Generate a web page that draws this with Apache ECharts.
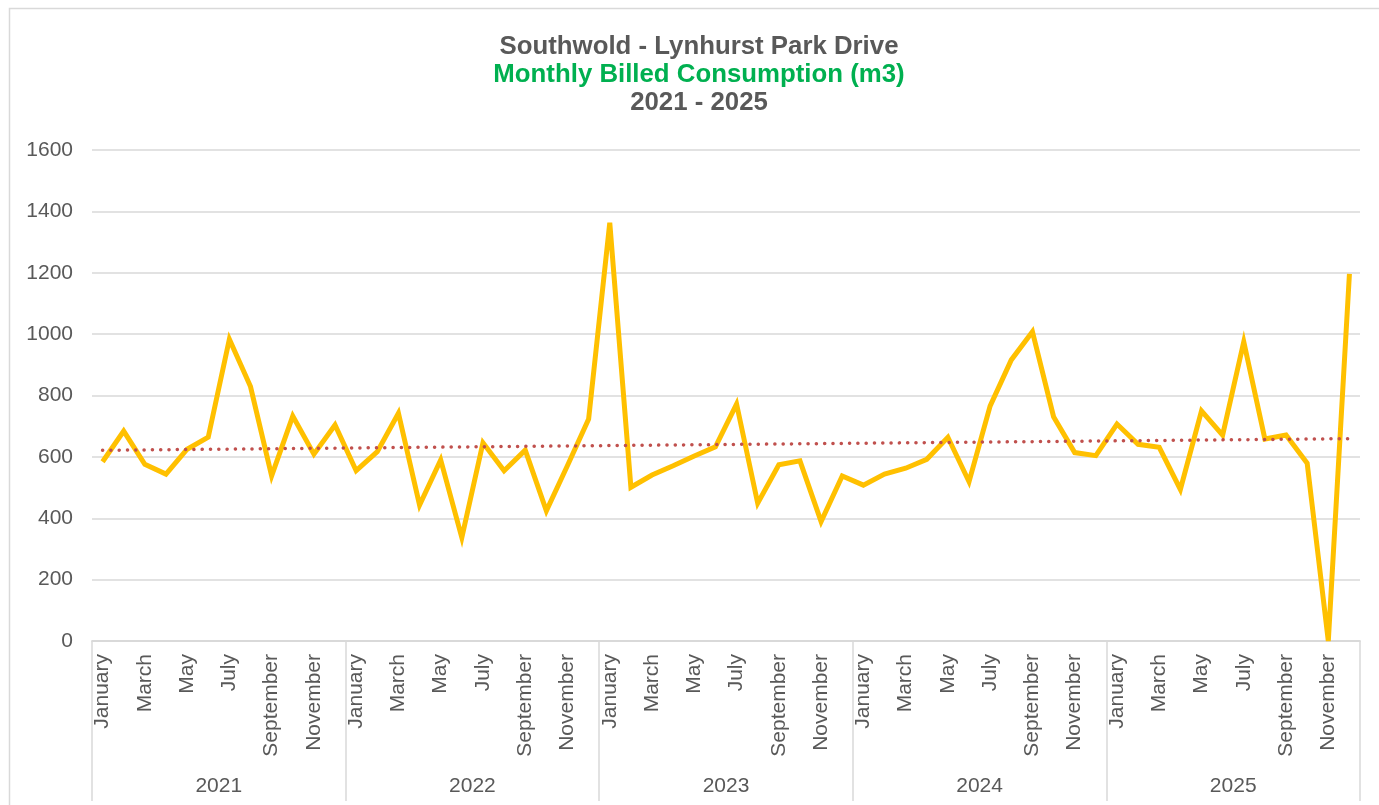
<!DOCTYPE html>
<html>
<head>
<meta charset="utf-8">
<script src="https://cdn.jsdelivr.net/npm/echarts@6/dist/echarts.min.js"></script>
<style>
  html, body { margin: 0; padding: 0; background: #fff; }
  #chart { width: 1379px; height: 805px; }
</style>
</head>
<body>
<div id="chart"></div>
<script>
// Monthly billed consumption (m3), Southwold - Lynhurst Park Drive
const years = ['2021', '2022', '2023', '2024', '2025'];
const monthNames = ['January', 'February', 'March', 'April', 'May', 'June',
  'July', 'August', 'September', 'October', 'November', 'December'];

const consumption2021 = [584, 684, 576, 544, 625, 664, 983, 829, 538, 733, 609, 704];
const consumption2022 = [555, 617, 742, 443, 590, 337, 646, 555, 622, 424, 572, 723];
const consumption2023 = [1363, 501, 541, 571, 603, 633, 772, 449, 574, 587, 389, 538];
const consumption2024 = [508, 544, 563, 592, 664, 519, 766, 916, 1008, 731, 614, 604];
const consumption2025 = [707, 641, 631, 494, 750, 671, 975, 658, 671, 579, 0, 1196];

const yTicks = [0, 200, 400, 600, 800, 1000, 1200, 1400, 1600];

const consumption = [].concat(consumption2021, consumption2022, consumption2023,
  consumption2024, consumption2025);
const monthCategories = [];
years.forEach(function () { monthNames.forEach(function (m) { monthCategories.push(m); }); });

// Least-squares linear trend over the monthly series
function linearTrend(values) {
  const n = values.length;
  let sx = 0, sy = 0, sxx = 0, sxy = 0;
  for (let i = 0; i < n; i++) {
    const x = i + 1;
    sx += x; sy += values[i]; sxx += x * x; sxy += x * values[i];
  }
  const slope = (n * sxy - sx * sy) / (n * sxx - sx * sx);
  const intercept = (sy - slope * sx) / n;
  return values.map(function (_, i) { return +(intercept + slope * (i + 1)).toFixed(2); });
}
const trend = linearTrend(consumption);

const textGrey = '#595959';
const gridGrey = '#d9d9d9';
const fontFamily = '"Liberation Sans", Arial, sans-serif';
const axisFont = 21;
const titleStyle = function (color) {
  return { fontSize: 25.8, fontWeight: 'bold', color: color, fontFamily: fontFamily };
};

const chart = echarts.init(document.getElementById('chart'));
chart.setOption({
  animation: false,
  textStyle: { fontFamily: fontFamily },
  graphic: [{
    type: 'rect',
    shape: { x: 9.5, y: 8.5, width: 1400, height: 900 },
    style: { fill: 'none', stroke: gridGrey, lineWidth: 1.5 },
    silent: true
  }],
  title: [
    { text: 'Southwold - Lynhurst Park Drive', left: 694, textAlign: 'center', top: 29, textStyle: titleStyle(textGrey) },
    { text: 'Monthly Billed Consumption (m3)', left: 694, textAlign: 'center', top: 57, textStyle: titleStyle('#00b050') },
    { text: '2021 - 2025', left: 694, textAlign: 'center', top: 85, textStyle: titleStyle(textGrey) }
  ],
  grid: { left: 92, right: 19, top: 150, bottom: 164, containLabel: false },
  xAxis: [
    {
      type: 'category',
      data: monthCategories,
      boundaryGap: true,
      axisLine: { show: true, lineStyle: { color: gridGrey, width: 1.5 } },
      axisTick: { show: false },
      axisLabel: {
        interval: 1, rotate: 90, margin: 13,
        color: textGrey, fontSize: axisFont, fontFamily: fontFamily
      },
      splitLine: { show: false }
    },
    {
      type: 'category',
      data: years,
      position: 'bottom',
      boundaryGap: true,
      axisLine: { show: true, lineStyle: { color: gridGrey, width: 1.5 } },
      axisTick: { show: true, interval: 0, length: 160, lineStyle: { color: gridGrey, width: 1.5 } },
      axisLabel: { interval: 0, margin: 135, color: textGrey, fontSize: axisFont, fontFamily: fontFamily },
      splitLine: { show: false }
    }
  ],
  yAxis: {
    type: 'value',
    min: yTicks[0],
    max: yTicks[yTicks.length - 1],
    interval: 200,
    axisLine: { show: false },
    axisTick: { show: false },
    axisLabel: {
      color: textGrey, fontSize: axisFont, margin: 19, fontFamily: fontFamily,
      formatter: function (v) { return String(v); }
    },
    splitLine: { lineStyle: { color: gridGrey, width: 1.5 } }
  },
  series: [
    {
      name: 'Consumption',
      type: 'line',
      xAxisIndex: 0,
      data: consumption,
      showSymbol: false,
      symbol: 'none',
      lineStyle: { color: '#ffc000', width: 5, join: 'miter', cap: 'butt' },
      z: 3
    },
    {
      name: 'Linear trend',
      type: 'line',
      xAxisIndex: 0,
      data: trend,
      showSymbol: false,
      symbol: 'none',
      lineStyle: { color: '#c0504d', width: 3.5, type: [0.1, 8.2], cap: 'round' },
      z: 4
    }
  ]
});
</script>
</body>
</html>
